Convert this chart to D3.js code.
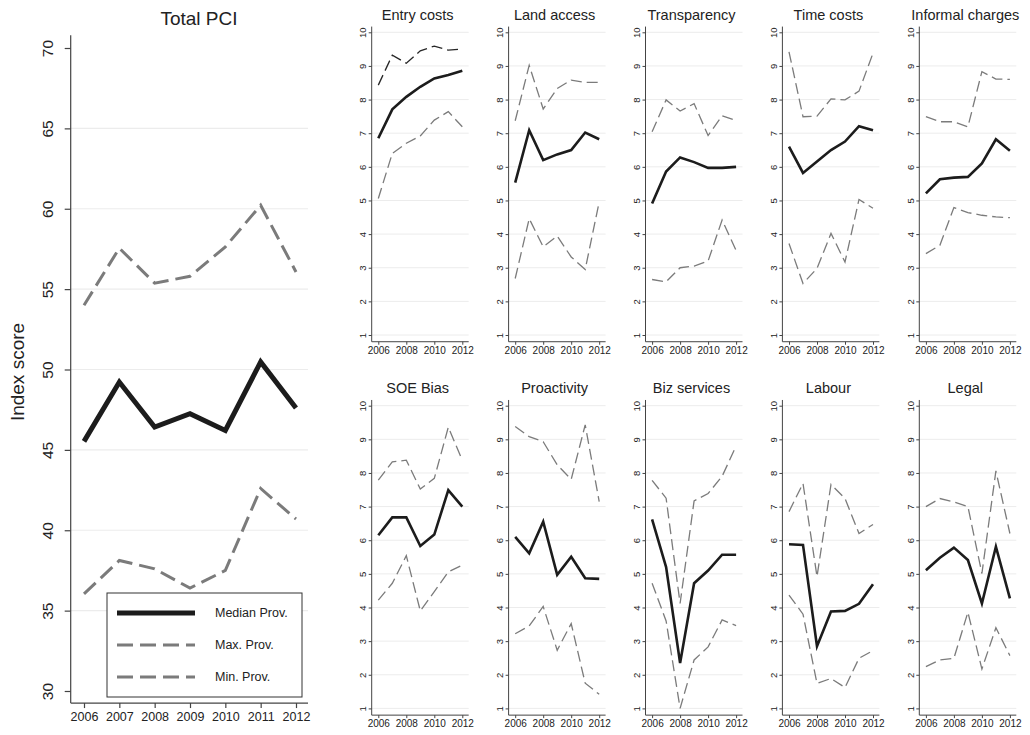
<!DOCTYPE html>
<html>
  <head>
    <meta charset="utf-8">
    <title>PCI</title>
    <style>
      body { margin: 0; background: #fff; }
      text { font-family: "Liberation Sans", Arial, sans-serif; fill: #222; }
    </style>
  </head>
  <body>
    <script src="https://cdn.jsdelivr.net/npm/d3@7"></script>
    <script>
      // years on every x axis
      var years = [2006, 2007, 2008, 2009, 2010, 2011, 2012];

      // Total PCI (left panel)
      var pciMedian = [45.53, 49.22, 46.42, 47.25, 46.21, 50.47, 47.6];
      var pciMax = [54.0, 57.55, 55.37, 55.8, 57.63, 60.22, 56.07];
      var pciMin = [36.04, 38.12, 37.6, 36.4, 37.5, 42.6, 40.7];
      var pciTicks = [30, 35, 40, 45, 50, 55, 60, 65, 70];

      // sub-indices (small panels), same order in every array
      var panelTitles = ['Entry costs', 'Land access', 'Transparency', 'Time costs', 'Informal charges',
        'SOE Bias', 'Proactivity', 'Biz services', 'Labour', 'Legal'];
      var medianProv = [
        [6.85, 7.71, 8.08, 8.38, 8.63, 8.73, 8.86],
        [5.53, 7.09, 6.2, 6.37, 6.5, 7.02, 6.82],
        [4.91, 5.86, 6.28, 6.14, 5.97, 5.97, 6.0],
        [6.6, 5.82, 6.16, 6.5, 6.75, 7.21, 7.09],
        [5.21, 5.63, 5.68, 5.7, 6.1, 6.82, 6.48],
        [6.15, 6.68, 6.68, 5.83, 6.17, 7.49, 7.0],
        [6.1, 5.61, 6.55, 4.97, 5.51, 4.87, 4.85],
        [6.62, 5.2, 2.35, 4.72, 5.1, 5.57, 5.57],
        [5.88, 5.86, 2.85, 3.88, 3.9, 4.11, 4.69],
        [5.11, 5.48, 5.78, 5.41, 4.12, 5.81, 4.27]
      ];
      var maxProv = [
        [8.43, 9.32, 9.08, 9.45, 9.59, 9.47, 9.5],
        [7.37, 9.02, 7.72, 8.33, 8.58, 8.51, 8.51],
        [7.04, 7.99, 7.66, 7.88, 6.93, 7.52, 7.38],
        [9.42, 7.49, 7.51, 8.02, 7.99, 8.25, 9.38],
        [7.49, 7.34, 7.34, 7.19, 8.83, 8.61, 8.6],
        [7.79, 8.33, 8.38, 7.52, 7.84, 9.36, 8.38],
        [9.38, 9.08, 8.93, 8.24, 7.81, 9.43, 7.15],
        [7.78, 7.25, 4.12, 7.17, 7.39, 7.9, 8.8],
        [6.85, 7.69, 4.92, 7.66, 7.24, 6.2, 6.47],
        [7.0, 7.24, 7.14, 7.0, 5.01, 8.06, 6.2]
      ];
      var minProv = [
        [5.06, 6.4, 6.7, 6.92, 7.39, 7.64, 7.19],
        [2.68, 4.46, 3.62, 3.94, 3.32, 2.95, 4.96],
        [2.65, 2.58, 3.0, 3.05, 3.2, 4.42, 3.51],
        [3.72, 2.53, 2.98, 4.02, 3.17, 5.03, 4.77],
        [3.42, 3.67, 4.79, 4.64, 4.56, 4.51, 4.49],
        [4.22, 4.72, 5.54, 3.9, 4.47, 5.06, 5.26],
        [3.22, 3.45, 4.03, 2.73, 3.52, 1.75, 1.42],
        [4.72, 3.6, 1.0, 2.44, 2.83, 3.63, 3.46],
        [4.37, 3.8, 1.74, 1.89, 1.62, 2.49, 2.72],
        [2.24, 2.44, 2.49, 3.86, 2.17, 3.4, 2.57]
      ];
      var smallTicks = [1, 2, 3, 4, 5, 6, 7, 8, 9, 10];
      var smallYearTicks = [2006, 2008, 2010, 2012];
      var legendLabels = ['Median Prov.', 'Max. Prov.', 'Min. Prov.'];

      var width = 1030,
        height = 735,
        axisColor = '#444',
        gridColor = '#ececec',
        medianColor = '#1c1c1c',
        dashColor = '#7b7b7b';

      var svg = d3.select('body')
        .append('svg')
        .attr('width', width)
        .attr('height', height);

      var line = function(x, y) {
        return d3.line()
          .x(function(d, i) { return x(years[i]); })
          .y(function(d) { return y(d); });
      };

      // ---------- Total PCI ----------
      var bigLeft = 70.7, bigRight = 308;
      var bx = d3.scaleLinear().domain([2006, 2012]).range([84, 296]);
      var by = d3.scaleLinear().domain([30, 70]).range([691, 48]);
      var big = svg.append('g');

      big.selectAll('.grid')
        .data(pciTicks.filter(function(t) { return t > 30 && t < 70; }))
        .enter().append('line')
        .attr('x1', bigLeft).attr('x2', bigRight)
        .attr('y1', function(d) { return by(d); })
        .attr('y2', function(d) { return by(d); })
        .attr('stroke', gridColor).attr('stroke-width', 1.2);

      var bigYAxis = big.append('g')
        .attr('transform', 'translate(' + bigLeft + ',0)')
        .call(d3.axisLeft(by).tickValues(pciTicks).tickSize(6).tickSizeOuter(0));
      bigYAxis.select('.domain').attr('d', 'M0,' + by(70.8) + 'V' + by(29.25));
      bigYAxis.selectAll('text')
        .attr('x', null).attr('dy', null)
        .attr('y', -17.5)
        .attr('text-anchor', 'middle')
        .attr('transform', 'rotate(-90)')
        .style('font-size', '15.5px');

      var bigXAxis = big.append('g')
        .attr('transform', 'translate(0,' + by(29.25) + ')')
        .call(d3.axisBottom(bx).tickValues(years).tickFormat(d3.format('d')).tickSize(5).tickSizeOuter(0));
      bigXAxis.select('.domain').attr('d', 'M' + bigLeft + ',0H' + bigRight);
      bigXAxis.selectAll('text').attr('y', 9).style('font-size', '12.5px');

      [bigYAxis, bigXAxis].forEach(function(a) {
        a.selectAll('line, path').attr('stroke', axisColor).attr('stroke-width', 1.2);
        a.selectAll('text').attr('fill', '#222').style('font-family', '"Liberation Sans", Arial, sans-serif');
      });

      big.append('path').datum(pciMax)
        .attr('d', line(bx, by)).attr('fill', 'none')
        .attr('stroke', dashColor).attr('stroke-width', 3).attr('stroke-dasharray', '16,7');
      big.append('path').datum(pciMin)
        .attr('d', line(bx, by)).attr('fill', 'none')
        .attr('stroke', dashColor).attr('stroke-width', 3).attr('stroke-dasharray', '16,7');
      big.append('path').datum(pciMedian)
        .attr('d', line(bx, by)).attr('fill', 'none')
        .attr('stroke', medianColor).attr('stroke-width', 5).attr('stroke-linejoin', 'miter');

      big.append('text')
        .attr('x', 199).attr('y', 25)
        .attr('text-anchor', 'middle')
        .style('font-size', '19px')
        .text('Total PCI');

      svg.append('text')
        .attr('transform', 'translate(24,372) rotate(-90)')
        .attr('text-anchor', 'middle')
        .style('font-size', '19px')
        .text('Index score');

      // legend
      var legend = big.append('g');
      legend.append('rect')
        .attr('x', 107).attr('y', 593).attr('width', 195).attr('height', 104)
        .attr('fill', '#fff').attr('stroke', '#333').attr('stroke-width', 1);
      legend.selectAll('.item')
        .data(legendLabels)
        .enter().append('g')
        .each(function(d, i) {
          var g = d3.select(this), y = 613 + i * 32;
          g.append('line')
            .attr('x1', 117).attr('x2', 195).attr('y1', y).attr('y2', y)
            .attr('stroke', i === 0 ? medianColor : dashColor)
            .attr('stroke-width', i === 0 ? 5 : 3)
            .attr('stroke-dasharray', i === 0 ? null : '16,7');
          g.append('text')
            .attr('x', 215).attr('y', y).attr('dy', '0.35em')
            .style('font-size', '12.5px')
            .text(d);
        });

      // ---------- small panels ----------
      panelTitles.forEach(function(title, k) {
        var col = k % 5, row = Math.floor(k / 5);
        var ax = 371.7 + col * 136.9;
        var off = row * 373.4;
        var x = d3.scaleLinear().domain([2006, 2012]).range([ax + 6.6, ax + 90.6]);
        var y = d3.scaleLinear().domain([1, 10]).range([335 + off, 32.3 + off]);
        var right = ax + 97;
        var g = svg.append('g');

        g.selectAll('.grid')
          .data(smallTicks)
          .enter().append('line')
          .attr('x1', ax).attr('x2', right)
          .attr('y1', function(d) { return y(d); })
          .attr('y2', function(d) { return y(d); })
          .attr('stroke', gridColor).attr('stroke-width', 1);

        var yAxis = g.append('g')
          .attr('transform', 'translate(' + ax + ',0)')
          .call(d3.axisLeft(y).tickValues(smallTicks).tickSize(3).tickSizeOuter(0));
        yAxis.select('.domain').attr('d', 'M0,' + y(10.17) + 'V' + y(0.8));
        yAxis.selectAll('text')
          .attr('x', null).attr('dy', null)
          .attr('y', -5.5)
          .attr('text-anchor', 'middle')
          .attr('transform', 'rotate(-90)')
          .style('font-size', '9.5px');

        var xAxis = g.append('g')
          .attr('transform', 'translate(0,' + y(0.8) + ')')
          .call(d3.axisBottom(x).tickValues(smallYearTicks).tickFormat(d3.format('d')).tickSize(3).tickSizeOuter(0));
        xAxis.select('.domain').attr('d', 'M' + ax + ',0H' + right);
        xAxis.selectAll('text').attr('y', 5).style('font-size', '10px');

        [yAxis, xAxis].forEach(function(a) {
          a.selectAll('line, path').attr('stroke', axisColor).attr('stroke-width', 1);
          a.selectAll('text').attr('fill', '#222').style('font-family', '"Liberation Sans", Arial, sans-serif');
        });

        g.append('path').datum(maxProv[k])
          .attr('d', line(x, y)).attr('fill', 'none')
          .attr('stroke', k === 0 ? '#262626' : dashColor)
          .attr('stroke-width', 1.3).attr('stroke-dasharray', '11,5');
        g.append('path').datum(minProv[k])
          .attr('d', line(x, y)).attr('fill', 'none')
          .attr('stroke', dashColor).attr('stroke-width', 1.3).attr('stroke-dasharray', '11,5');
        g.append('path').datum(medianProv[k])
          .attr('d', line(x, y)).attr('fill', 'none')
          .attr('stroke', medianColor).attr('stroke-width', 2.6);

        g.append('text')
          .attr('x', ax + 46).attr('y', 20 + off)
          .attr('text-anchor', 'middle')
          .style('font-size', '14.5px')
          .text(title);
      });
    </script>
  </body>
</html>
